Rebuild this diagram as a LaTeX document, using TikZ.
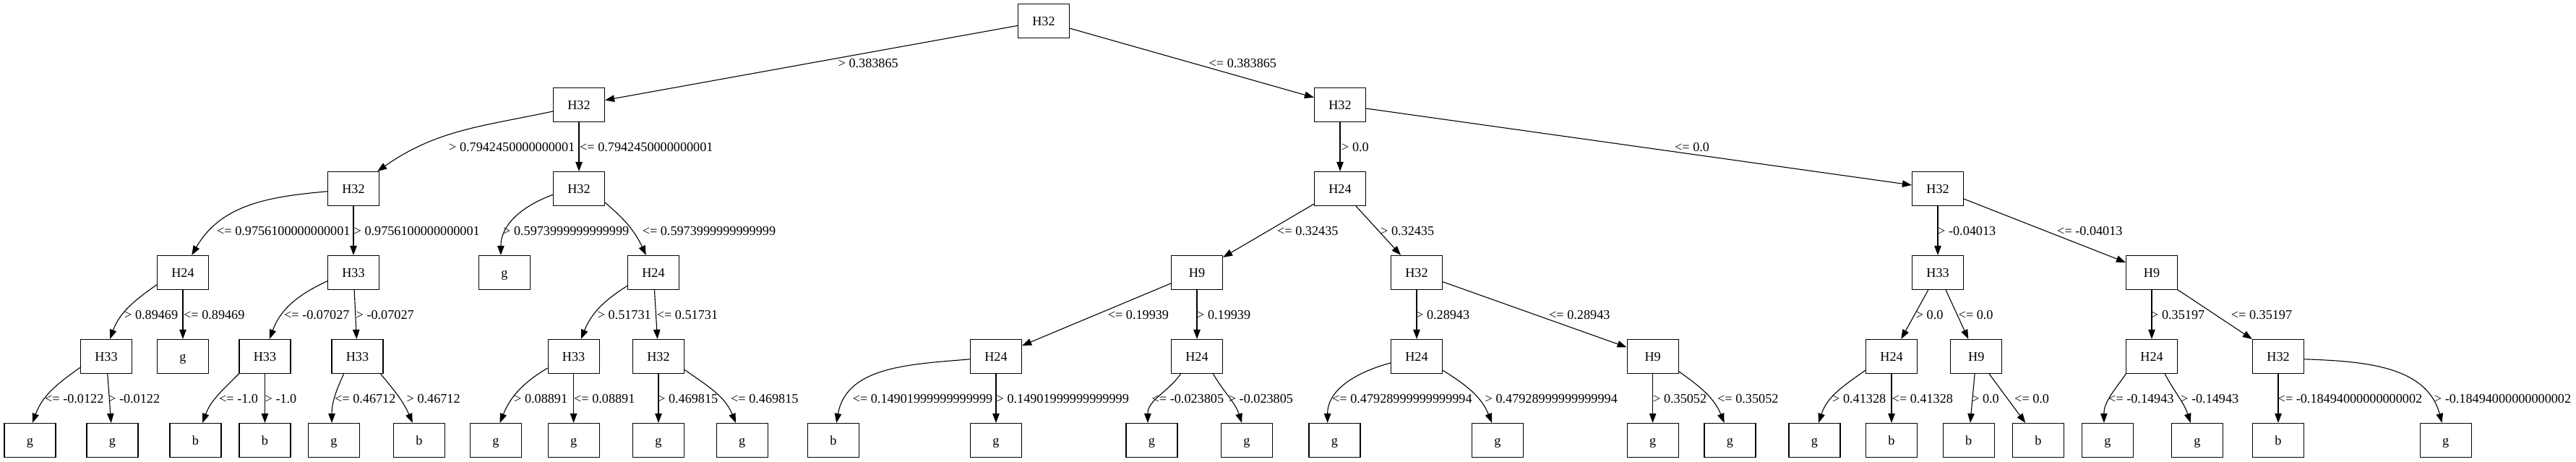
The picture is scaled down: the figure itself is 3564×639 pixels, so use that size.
\documentclass[tikz,border=0pt]{standalone}
\usepackage{fontspec}
\setmainfont{Liberation Serif}
\usetikzlibrary{arrows.meta}
\begin{document}
\begin{tikzpicture}[x=1pt,y=-1pt,
  box/.style={draw, rectangle, minimum width=71pt, minimum height=47pt, inner sep=0pt, line width=1.2pt,
    font=\fontsize{18.2}{20}\selectfont, text height=12.5pt, text depth=0pt},
  conn/.style={line width=1.1pt, -{Triangle[length=13pt,width=9.5pt]}},
  lbl/.style={inner sep=0pt, anchor=west, font=\fontsize{18.2}{20}\selectfont, text height=12.3pt, text depth=0pt}]
\path[fill=white, use as bounding box] (0,0) rectangle (3564,639);
% level 0-2
\node[box] (n0) at (1444,29) {H32};
\node[box] (n1) at (801,145) {H32};
\node[box] (n2) at (1854,145) {H32};
\node[box] (n11) at (489,261) {H32};
\node[box] (n12) at (801,261) {H32};
\node[box] (n21) at (1854,261) {H24};
\node[box] (n22) at (2681,261) {H32};
% level 3
\node[box] (n111) at (253,377) {H24};
\node[box] (n112) at (489,377) {H33};
\node[box] (n121) at (698,377) {g};
\node[box] (n122) at (904,377) {H24};
\node[box] (n211) at (1656,377) {H9};
\node[box] (n212) at (1960,377) {H32};
\node[box] (n221) at (2681,377) {H33};
\node[box] (n222) at (2977,377) {H9};
% level 4
\node[box] (n1111) at (147,493) {H33};
\node[box] (n1112) at (253,493) {g};
\node[box] (n1121) at (366.5,493) {H33};
\node[box] (n1122) at (494.5,493) {H33};
\node[box] (n1221) at (793.6,493) {H33};
\node[box] (n1222) at (911,493) {H32};
\node[box] (n2111) at (1378,493) {H24};
\node[box] (n2112) at (1656,493) {H24};
\node[box] (n2121) at (1960,493) {H24};
\node[box] (n2122) at (2286.6,493) {H9};
\node[box] (n2211) at (2617,493) {H24};
\node[box] (n2212) at (2734.3,493) {H9};
\node[box] (n2221) at (2977,493) {H24};
\node[box] (n2222) at (3152,493) {H32};
% level 5
\node[box] (l1) at (41.5,609) {g};
\node[box] (l2) at (155.5,609) {g};
\node[box] (l3) at (270.5,609) {b};
\node[box] (l4) at (366.5,609) {b};
\node[box] (l5) at (462,609) {g};
\node[box] (l6) at (580,609) {b};
\node[box] (l7) at (686,609) {g};
\node[box] (l8) at (793.6,609) {g};
\node[box] (l9) at (911,609) {g};
\node[box] (l10) at (1026.7,609) {g};
\node[box] (l11) at (1153,609) {b};
\node[box] (l12) at (1378,609) {g};
\node[box] (l13) at (1593.5,609) {g};
\node[box] (l14) at (1725,609) {g};
\node[box] (l15) at (1846.4,609) {g};
\node[box] (l16) at (2072,609) {g};
\node[box] (l17) at (2286.6,609) {g};
\node[box] (l18) at (2393.4,609) {g};
\node[box] (l19) at (2510.5,609) {g};
\node[box] (l20) at (2617,609) {b};
\node[box] (l21) at (2723.7,609) {b};
\node[box] (l22) at (2820,609) {b};
\node[box] (l23) at (2916,609) {g};
\node[box] (l24) at (3040,609) {g};
\node[box] (l25) at (3152,609) {b};
\node[box] (l26) at (3383.7,609) {g};
% edges level 0-2
\draw[conn] (n0) -- (n1);
\draw[conn] (n0) -- (n2);
\draw[conn] (n1.194) to[out=192,in=35] (n11.36);
\draw[conn] (n1) -- (n12);
\draw[conn] (n2) -- (n21);
\draw[conn] (n2) -- (n22);
% edges level 2-3
\draw[conn] (n11.186) to[out=185,in=60] (n111.63);
\draw[conn] (n11) -- (n112);
\draw[conn] (n12.193) to[out=200,in=90] (n121.102);
\draw[conn] (n12.-28) to[out=-40,in=115] (n122.113);
\draw[conn] (n21) -- (n211);
\draw[conn] (n21) -- (n212);
\draw[conn] (n22) -- (n221);
\draw[conn] (n22) -- (n222);
% edges level 3-4
\draw[conn] (n111.205) to[out=215,in=70] (n1111.78);
\draw[conn] (n111) -- (n1112);
\draw[conn] (n112.198) to[out=205,in=70] (n1121.75);
\draw[conn] (n112) -- (n1122);
\draw[conn] (n122.207) to[out=212,in=68] (n1221.67);
\draw[conn] (n122) -- (n1222);
\draw[conn] (n211) -- (n2111);
\draw[conn] (n211) -- (n2112);
\draw[conn] (n212) -- (n2121);
\draw[conn] (n212) -- (n2122);
\draw[conn] (n221) -- (n2211);
\draw[conn] (n221) -- (n2212);
\draw[conn] (n222) -- (n2221);
\draw[conn] (n222) -- (n2222);
% edges level 4-5
\draw[conn] (n1111.203) to[out=215,in=70] (l1.82);
\draw[conn] (n1111) -- (l2);
\draw[conn] (n1121.south west) to[out=225,in=70] (l3.68);
\draw[conn] (n1121) -- (l4);
\draw[conn] (n1122.232) to[out=245,in=90] (l5.97);
\draw[conn] (n1122.-37) to[out=-50,in=113] (l6.111);
\draw[conn] (n1221.204) to[out=211,in=68] (l7.77);
\draw[conn] (n1221) -- (l8);
\draw[conn] (n1222) -- (l9);
\draw[conn] (n1222.-27) to[out=-35,in=112] (l10.110);
\draw[conn] (n2111.186) to[out=185,in=80] (l11.80);
\draw[conn] (n2111) -- (l12);
\draw[conn] (n2112.-133) to[out=235,in=90] (l13.103);
\draw[conn] (n2112.-47) to[out=-60,in=108] (l14.106);
\draw[conn] (n2121.194) to[out=195,in=90] (l15.112);
\draw[conn] (n2121.-28) to[out=-32,in=112] (l16.108);
\draw[conn] (n2122) -- (l17);
\draw[conn] (n2122.-30) to[out=-35,in=112] (l18.108);
\draw[conn] (n2211.208) to[out=215,in=72] (l19.77);
\draw[conn] (n2211) -- (l20);
\draw[conn] (n2212) -- (l21);
\draw[conn] (n2212) -- (l22);
\draw[conn] (n2221.-146) to[out=235,in=90] (l23.102);
\draw[conn] (n2221.-53) to[out=-62,in=108] (l24.111);
\draw[conn] (n2222) -- (l25);
\draw[conn] (n2222.-6) to[out=-2,in=105] (l26.102);
% labels
\node[lbl] (t1) at (1159.5,87) {> 0.383865};
\node[lbl] (t2) at (1672.5,87) {<= 0.383865};
\node[lbl] (t3) at (621,203) {> 0.7942450000000001};
\node[lbl] (t4) at (802,203) {<= 0.7942450000000001};
\node[lbl] (t5) at (1856,203) {> 0.0};
\node[lbl] (t6) at (2317,203) {<= 0.0};
\node[lbl] (t7) at (300,319) {<= 0.9756100000000001};
\node[lbl] (t8) at (489.5,319) {> 0.9756100000000001};
\node[lbl] (t9) at (696,319) {> 0.5973999999999999};
\node[lbl] (t10) at (888.6,319) {<= 0.5973999999999999};
\node[lbl] (t11) at (1767,319) {<= 0.32435};
\node[lbl] (t12) at (1910,319) {> 0.32435};
\node[lbl] (t13) at (2681,319) {> -0.04013};
\node[lbl] (t14) at (2846,319) {<= -0.04013};
\node[lbl] (t15) at (172,435) {> 0.89469};
\node[lbl] (t16) at (254,435) {<= 0.89469};
\node[lbl] (t17) at (393,435) {<= -0.07027};
\node[lbl] (t18) at (492.5,435) {> -0.07027};
\node[lbl] (t19) at (826.6,435) {> 0.51731};
\node[lbl] (t20) at (908.7,435) {<= 0.51731};
\node[lbl] (t21) at (1532.6,435) {<= 0.19939};
\node[lbl] (t22) at (1656,435) {> 0.19939};
\node[lbl] (t23) at (1959,435) {> 0.28943};
\node[lbl] (t24) at (2143,435) {<= 0.28943};
\node[lbl] (t25) at (2650.6,435) {> 0.0};
\node[lbl] (t26) at (2709.5,435) {<= 0.0};
\node[lbl] (t27) at (2976,435) {> 0.35197};
\node[lbl] (t28) at (3086.7,435) {<= 0.35197};
\node[lbl] (t29) at (62,551) {<= -0.0122};
\node[lbl] (t30) at (150,551) {> -0.0122};
\node[lbl] (t31) at (303,551) {<= -1.0};
\node[lbl] (t32) at (366.5,551) {> -1.0};
\node[lbl] (t33) at (463,551) {<= 0.46712};
\node[lbl] (t34) at (562.5,551) {> 0.46712};
\node[lbl] (t35) at (711,551) {> 0.08891};
\node[lbl] (t36) at (794,551) {<= 0.08891};
\node[lbl] (t37) at (910,551) {> 0.469815};
\node[lbl] (t38) at (1011,551) {<= 0.469815};
\node[lbl] (t39) at (1179.6,551) {<= 0.14901999999999999};
\node[lbl] (t40) at (1378.5,551) {> 0.14901999999999999};
\node[lbl] (t41) at (1593.5,551) {<= -0.023805};
\node[lbl] (t42) at (1699.7,551) {> -0.023805};
\node[lbl] (t43) at (1843,551) {<= 0.47928999999999994};
\node[lbl] (t44) at (2054.5,551) {> 0.47928999999999994};
\node[lbl] (t45) at (2287,551) {> 0.35052};
\node[lbl] (t46) at (2376,551) {<= 0.35052};
\node[lbl] (t47) at (2535,551) {> 0.41328};
\node[lbl] (t48) at (2617.5,551) {<= 0.41328};
\node[lbl] (t49) at (2728,551) {> 0.0};
\node[lbl] (t50) at (2787,551) {<= 0.0};
\node[lbl] (t51) at (2917,551) {<= -0.14943};
\node[lbl] (t52) at (3017,551) {> -0.14943};
\node[lbl] (t53) at (3151.5,551) {<= -0.18494000000000002};
\node[lbl] (t54) at (3367.7,551) {> -0.18494000000000002};
\end{tikzpicture}
\end{document}
